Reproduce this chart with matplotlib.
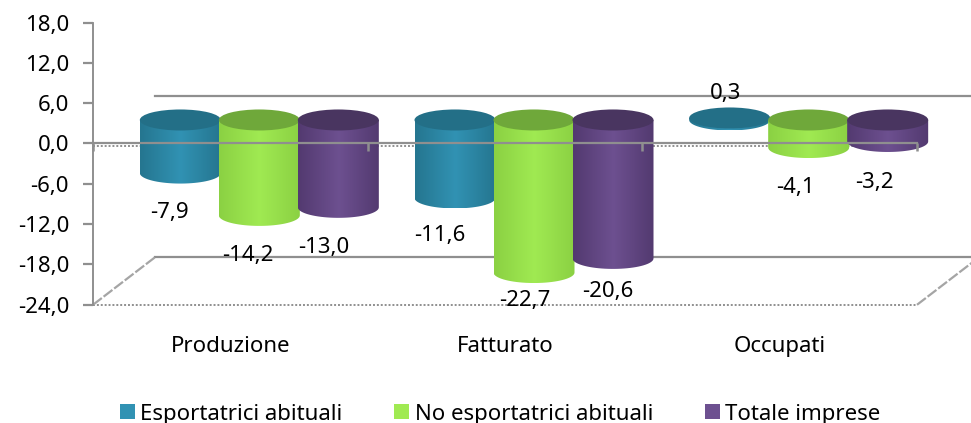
"""
Variazioni per tipo di impresa - cylinder chart redrawn with plain matplotlib
"""
import numpy as np
import matplotlib
matplotlib.use("Agg")
import matplotlib.pyplot as plt
from matplotlib.colors import LinearSegmentedColormap
from matplotlib.patches import Ellipse, PathPatch, Patch
from matplotlib.path import Path

categories = ["Produzione", "Fatturato", "Occupati"]
series_names = ["Esportatrici abituali", "No esportatrici abituali", "Totale imprese"]
esportatrici = [-7.9, -11.6, 0.3]
no_esportatrici = [-14.2, -22.7, -4.1]
totale = [-13.0, -20.6, -3.2]
y_ticks = [18, 12, 6, 0, -6, -12, -18, -24]

plt.rcParams["font.family"] = "Noto Sans"

# figure layout, pixels per unit
PX_X = 274.67
PX_Y = 6.72
DEPTH_X = 62 / PX_X
DEPTH_Y = 47.5 / PX_Y
HALF_W = 40.5 / PX_X
HALF_H = 10.5 / PX_Y
BAR_STEP = 79 / PX_X
BAR_SHIFT = 29 / PX_X
BAR_BASE = 3.5
GREY = "#8f8f8f"
FS = 16

# (edge, centre, top) colours per series
colors = [("#257690", "#3192b3", "#236f87"),
          ("#8bd143", "#a0ea52", "#6fa83a"),
          ("#533a70", "#6d5090", "#493560")]
series = [esportatrici, no_esportatrici, totale]

# label offset from the bar end in pixels
label_dx = [[-11, -15, -4], [-12, -9, -13], [-15, -5, -13]]
label_dy = [[-39, -38, 24], [-40, -28, -40], [-40, -33, -41]]

fig = plt.figure(figsize=(9.71, 4.23), dpi=100)
ax = fig.add_axes([0, 0, 1, 1])
ax.patch.set_visible(False)


def cylinder(cx, value, cols):
    # body: from the base level down (or up) to the value, with rounded end
    low = min(value, 0) + BAR_BASE
    high = max(value, 0) + BAR_BASE
    t = np.linspace(np.pi, 2 * np.pi, 40)
    xs = cx + HALF_W * np.cos(t)
    ys = low + HALF_H * np.sin(t)
    verts = [(cx - HALF_W, high)] + list(zip(xs, ys)) + [(cx + HALF_W, high)]
    verts += [(cx - HALF_W, high)]
    codes = [Path.MOVETO] + [Path.LINETO] * (len(verts) - 2) + [Path.CLOSEPOLY]
    clip = PathPatch(Path(verts, codes), fc="none", ec="none", transform=ax.transData)
    ax.add_patch(clip)
    cmap = LinearSegmentedColormap.from_list("body", [cols[0], cols[1], cols[0]])
    img = ax.imshow(np.linspace(0, 1, 64).reshape(1, -1), cmap=cmap, aspect="auto",
                    extent=(cx - HALF_W, cx + HALF_W, low - HALF_H, high), zorder=2)
    img.set_clip_path(clip)
    # top cap
    ax.add_patch(Ellipse((cx, high), 2 * HALF_W, 2 * HALF_H, fc=cols[2], ec="none", zorder=2))


for j, vals in enumerate(series):
    for i, v in enumerate(vals):
        cx = i + 0.5 + BAR_SHIFT + (j - 1) * BAR_STEP
        cylinder(cx, v, colors[j])
        ax.annotate(f"{v:.1f}".replace(".", ","), (cx, v + BAR_BASE),
                    xytext=(label_dx[j][i] * 0.72, label_dy[j][i] * 0.72),
                    textcoords="offset points", ha="center", va="center",
                    fontsize=FS, color="black", zorder=6)

# back wall and floor
n = len(categories)
ax.plot([DEPTH_X, n + DEPTH_X], [DEPTH_Y, DEPTH_Y], color=GREY, lw=1.6, zorder=1)
ax.plot([DEPTH_X, n + DEPTH_X], [-24 + DEPTH_Y, -24 + DEPTH_Y], color=GREY, lw=1.6, zorder=1)
ax.plot([0, n], [-24, -24], color=GREY, lw=1.4, ls=(0, (1, 1)), zorder=1)
ax.plot([0, DEPTH_X], [-24, -24 + DEPTH_Y], color="#a5a5a5", lw=1.6, ls=(0, (5, 1)), zorder=1)
ax.plot([n, n + DEPTH_X], [-24, -24 + DEPTH_Y], color="#a5a5a5", lw=1.6, ls=(0, (5, 1)), zorder=1)
ax.plot([0, n], [-0.3, -0.3], color=GREY, lw=1.4, ls=(0, (1, 1)), zorder=1)

# axes
ax.set_xlim(-93 / PX_X, 878 / PX_X)
ax.set_ylim(-(423 - 143.5) / PX_Y, 143.5 / PX_Y)
for s in ["top", "right"]:
    ax.spines[s].set_visible(False)
ax.spines["left"].set_position(("data", 0))
ax.spines["left"].set_bounds(-24, 18)
ax.spines["left"].set_linestyle((0, (1, 1)))
ax.spines["left"].set_linewidth(1.4)
ax.spines["left"].set_color(GREY)
ax.spines["bottom"].set_position(("data", 0))
ax.spines["bottom"].set_bounds(0, n)
ax.spines["bottom"].set_linewidth(1.6)
ax.spines["bottom"].set_color(GREY)

ax.set_yticks(y_ticks)
ax.set_yticklabels([f"{t:.1f}".replace(".", ",") for t in y_ticks], fontsize=FS)
ax.tick_params(axis="y", direction="out", length=7.2, width=1.6, color=GREY, pad=10)
ax.set_xticks(range(n + 1))
ax.set_xticklabels([])
ax.tick_params(axis="x", which="major", direction="out", length=5.5, width=1.8, color=GREY)
ax.set_xticks(np.arange(n) + 0.5, minor=True)
ax.set_xticklabels(categories, minor=True, fontsize=FS)
ax.tick_params(axis="x", which="minor", length=0, pad=138.5)
ax.set_axisbelow(False)

# legend
handles = [Patch(fc=colors[j][1], ec="none", label=series_names[j]) for j in range(3)]
fig.legend(handles=handles, loc="center", bbox_to_anchor=(0.515, 0.021), ncols=3, frameon=False,
           fontsize=FS, handlelength=0.68, handleheight=0.68, handletextpad=0.25, columnspacing=2.32)

fig.savefig("out.png", dpi=100)
